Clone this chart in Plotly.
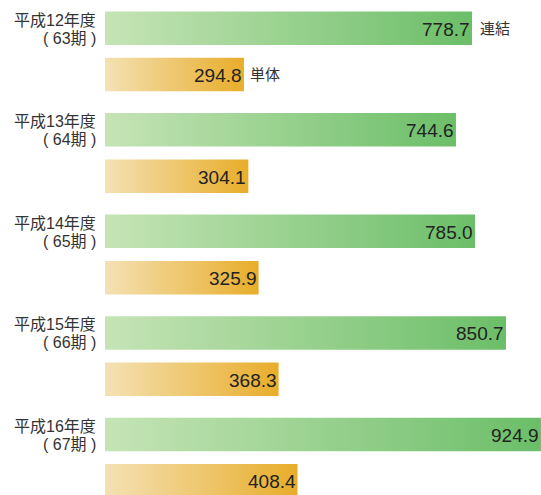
import plotly.graph_objects as go

# Fiscal years and sales figures (consolidated vs. parent-only)
years = ["平成12年度", "平成13年度", "平成14年度", "平成15年度", "平成16年度"]
periods = ["(\u00a063期\u00a0)", "(\u00a064期\u00a0)", "(\u00a065期\u00a0)",
           "(\u00a066期\u00a0)", "(\u00a067期\u00a0)"]
consolidated = [778.7, 744.6, 785.0, 850.7, 924.9]
standalone = [294.8, 304.1, 325.9, 368.3, 408.4]
series_names = ["連結", "単体"]

GREEN = [[0, "#c6e4b6"], [1, "#6bbe68"]]
ORANGE = [[0, "#f4e1b4"], [1, "#e8ad2a"]]

BAR_H = 0.33      # bar thickness in group units
OFFSET = 0.228    # distance of each bar centre from the group centre

fig = go.Figure()


def add_bar(value, yc, scale):
    y0, y1 = yc - BAR_H / 2, yc + BAR_H / 2
    fig.add_trace(go.Scatter(
        x=[0, value, value, 0, 0],
        y=[y0, y0, y1, y1, y0],
        mode="lines",
        line=dict(width=0),
        fill="toself",
        fillgradient=dict(type="horizontal", colorscale=scale),
        hoverinfo="skip",
        showlegend=False,
    ))


annotations = []
num_font = dict(family="Liberation Sans, Arial, sans-serif", size=19, color="#222222")
jp_font = dict(family="Noto Sans CJK JP, sans-serif", size=15, color="#333333")
label_font = dict(family="Liberation Sans, Noto Sans CJK JP, sans-serif",
                  size=16, color="#333333")

for i, (c, s) in enumerate(zip(consolidated, standalone)):
    yg = i - OFFSET
    yo = i + OFFSET
    add_bar(c, yg, GREEN)
    add_bar(s, yo, ORANGE)
    annotations.append(dict(x=c, y=yg, text=f"{c:.1f}", showarrow=False,
                            xanchor="right", xshift=0, yshift=-1, font=num_font))
    annotations.append(dict(x=s, y=yo, text=f"{s:.1f}", showarrow=False,
                            xanchor="right", xshift=0, yshift=-1, font=num_font))
    # Two-line year / period label to the left of each group
    annotations.append(dict(x=0, y=yg, text=years[i], showarrow=False,
                            xanchor="right", xshift=-7, yshift=8, font=label_font))
    annotations.append(dict(x=0, y=yg, text=periods[i], showarrow=False,
                            xanchor="right", xshift=-7, yshift=-10, font=label_font))

# Series tags next to the first pair of bars
annotations.append(dict(x=consolidated[0], y=0 - OFFSET, text=series_names[0],
                        showarrow=False, xanchor="left", xshift=6, yshift=1, font=jp_font))
annotations.append(dict(x=standalone[0], y=0 + OFFSET, text=series_names[1],
                        showarrow=False, xanchor="left", xshift=4, yshift=1, font=jp_font))

fig.update_layout(
    width=541, height=495,
    margin=dict(l=105, r=0, t=0, b=0),
    paper_bgcolor="white", plot_bgcolor="white",
    xaxis=dict(range=[0, 925], visible=False, fixedrange=True),
    yaxis=dict(range=[4.369, -0.507], visible=False, fixedrange=True),
    annotations=annotations,
    showlegend=False,
)

fig.write_html("out.html", config={"displayModeBar": False})
